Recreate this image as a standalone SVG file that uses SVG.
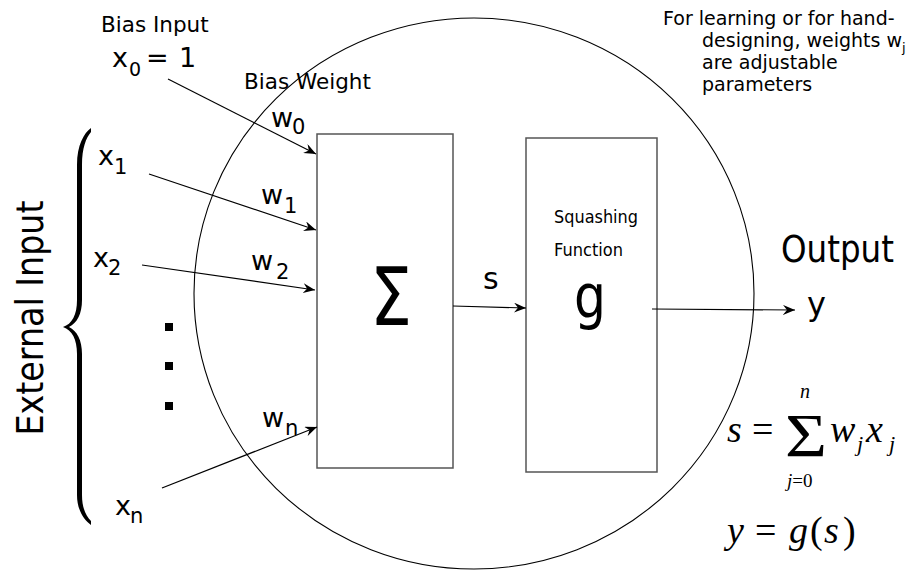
<svg xmlns="http://www.w3.org/2000/svg" width="911" height="570" viewBox="0 0 911 570">
<defs>
<style>
.t{font-family:"DejaVu Sans","Liberation Sans",sans-serif;fill:#000}
.m{font-family:"Liberation Serif","DejaVu Serif",serif;fill:#000}
.i{font-style:italic}
.box{fill:#fff;stroke:#555;stroke-width:1.5}
.ln{fill:none;stroke:#000;stroke-width:1.2}
</style>
<marker id="ah" viewBox="0 0 12 10" refX="12" refY="5" markerWidth="12" markerHeight="10" markerUnits="userSpaceOnUse" orient="auto">
<path d="M0,0 L12,5 L0,10 L4,5 z" fill="#000"/>
</marker>
</defs>
<rect width="911" height="570" fill="#fff"/>

<g id="neuron">
<ellipse cx="474" cy="293.5" rx="280" ry="275.5" fill="none" stroke="#000" stroke-width="1.1"/>
</g>

<g id="sum-node">
<rect class="box" x="317" y="134" width="136" height="334"/>
<text class="t" x="391" y="325" font-size="80" text-anchor="middle" textLength="42" lengthAdjust="spacingAndGlyphs">Σ</text>
</g>

<g id="squash-node">
<rect class="box" x="526" y="138" width="131" height="334"/>
<text class="t" x="554" y="223" font-size="18" textLength="84" lengthAdjust="spacingAndGlyphs">Squashing</text>
<text class="t" x="554" y="256" font-size="18" textLength="69" lengthAdjust="spacingAndGlyphs">Function</text>
<text class="t" x="574" y="317" font-size="60" textLength="32" lengthAdjust="spacingAndGlyphs">g</text>
</g>

<g id="connectors">
<line class="ln" x1="168" y1="79" x2="316" y2="154" marker-end="url(#ah)"/>
<line class="ln" x1="149" y1="174" x2="316" y2="230" marker-end="url(#ah)"/>
<line class="ln" x1="142" y1="265" x2="315" y2="290" marker-end="url(#ah)"/>
<line class="ln" x1="162" y1="488" x2="317" y2="427" marker-end="url(#ah)"/>
<line class="ln" x1="453" y1="306" x2="526" y2="308" marker-end="url(#ah)"/>
<line class="ln" x1="652" y1="309" x2="795" y2="310" marker-end="url(#ah)"/>
</g>

<g id="bias-input">
<text class="t" x="101" y="32" font-size="21.5">Bias Input</text>
<text class="t" x="112" y="67" font-size="27">x</text>
<text class="t" x="129" y="76" font-size="19">0</text>
<text class="t" x="146" y="67" font-size="27">=</text>
<text class="t" x="179" y="67" font-size="27">1</text>
</g>

<g id="bias-weight">
<text class="t" x="244" y="89" font-size="21.5">Bias Weight</text>
<text class="t" x="271" y="127" font-size="27">w</text>
<text class="t" x="292" y="134" font-size="21">0</text>
</g>

<g id="input-1">
<text class="t" x="98" y="165" font-size="27">x</text>
<text class="t" x="114" y="174" font-size="21">1</text>
</g>
<g id="weight-1">
<text class="t" x="261" y="204" font-size="27">w</text>
<text class="t" x="284" y="213" font-size="21">1</text>
</g>
<g id="input-2">
<text class="t" x="93" y="267" font-size="27">x</text>
<text class="t" x="108" y="275" font-size="21">2</text>
</g>
<g id="weight-2">
<text class="t" x="251" y="270" font-size="27">w</text>
<text class="t" x="276" y="279" font-size="21">2</text>
</g>
<g id="weight-n">
<text class="t" x="262" y="427" font-size="27">w</text>
<text class="t" x="285" y="435" font-size="21">n</text>
</g>
<g id="input-n">
<text class="t" x="115" y="515" font-size="27">x</text>
<text class="t" x="130" y="523" font-size="21">n</text>
</g>

<g id="ellipsis">
<rect x="165" y="323" width="8" height="8" fill="#000"/>
<rect x="165" y="362" width="8" height="8" fill="#000"/>
<rect x="165" y="402" width="8" height="8" fill="#000"/>
</g>

<g id="external-input">
<path d="M91,128 C84,133 77,145 77,165 L77,300 C77,315 72,324 63,327 C72,330 77,339 77,354 L77,495 C77,510 84,520 91,525 L91,521 C86,516 82,508 82,495 L82,354 C82,340 77,331 69,327 C77,323 82,314 82,300 L82,165 C82,148 86,138 91,132 Z" fill="#000"/>
<text class="t" transform="translate(43,318) rotate(-90)" x="0" y="0" font-size="37" text-anchor="middle" textLength="235" lengthAdjust="spacingAndGlyphs">External Input</text>
</g>

<g id="s-label">
<text class="t" x="483" y="289" font-size="30">s</text>
</g>

<g id="output">
<text class="t" x="781" y="262" font-size="37" textLength="113" lengthAdjust="spacingAndGlyphs">Output</text>
<text class="t" x="807" y="315" font-size="32">y</text>
</g>

<g id="note">
<text class="t" x="663" y="25" font-size="19">For learning or for hand-</text>
<text class="t" x="702" y="47" font-size="19">designing, weights w<tspan font-size="13" dy="5">j</tspan></text>
<text class="t" x="702" y="69" font-size="19">are adjustable</text>
<text class="t" x="702" y="91" font-size="19">parameters</text>
</g>

<g id="equation-s">
<text class="m i" x="727" y="442" font-size="38">s</text>
<text class="m" x="752" y="442" font-size="38">=</text>
<text class="m" x="785" y="456" font-size="62" textLength="42" lengthAdjust="spacingAndGlyphs">Σ</text>
<text class="m i" x="800" y="398" font-size="20">n</text>
<text class="m" x="787" y="487" font-size="19"><tspan class="i">j</tspan>=0</text>
<text class="m i" x="830" y="442" font-size="38">w</text>
<text class="m i" x="857" y="451" font-size="22">j</text>
<text class="m i" x="866" y="442" font-size="38">x</text>
<text class="m i" x="889" y="451" font-size="22">j</text>
</g>

<g id="equation-y">
<text class="m i" x="727" y="543" font-size="38">y</text>
<text class="m" x="755" y="543" font-size="38">=</text>
<text class="m i" x="789" y="543" font-size="38">g</text>
<text class="m" x="810" y="543" font-size="38">(</text>
<text class="m i" x="824" y="543" font-size="38">s</text>
<text class="m" x="843" y="543" font-size="38">)</text>
</g>
</svg>
